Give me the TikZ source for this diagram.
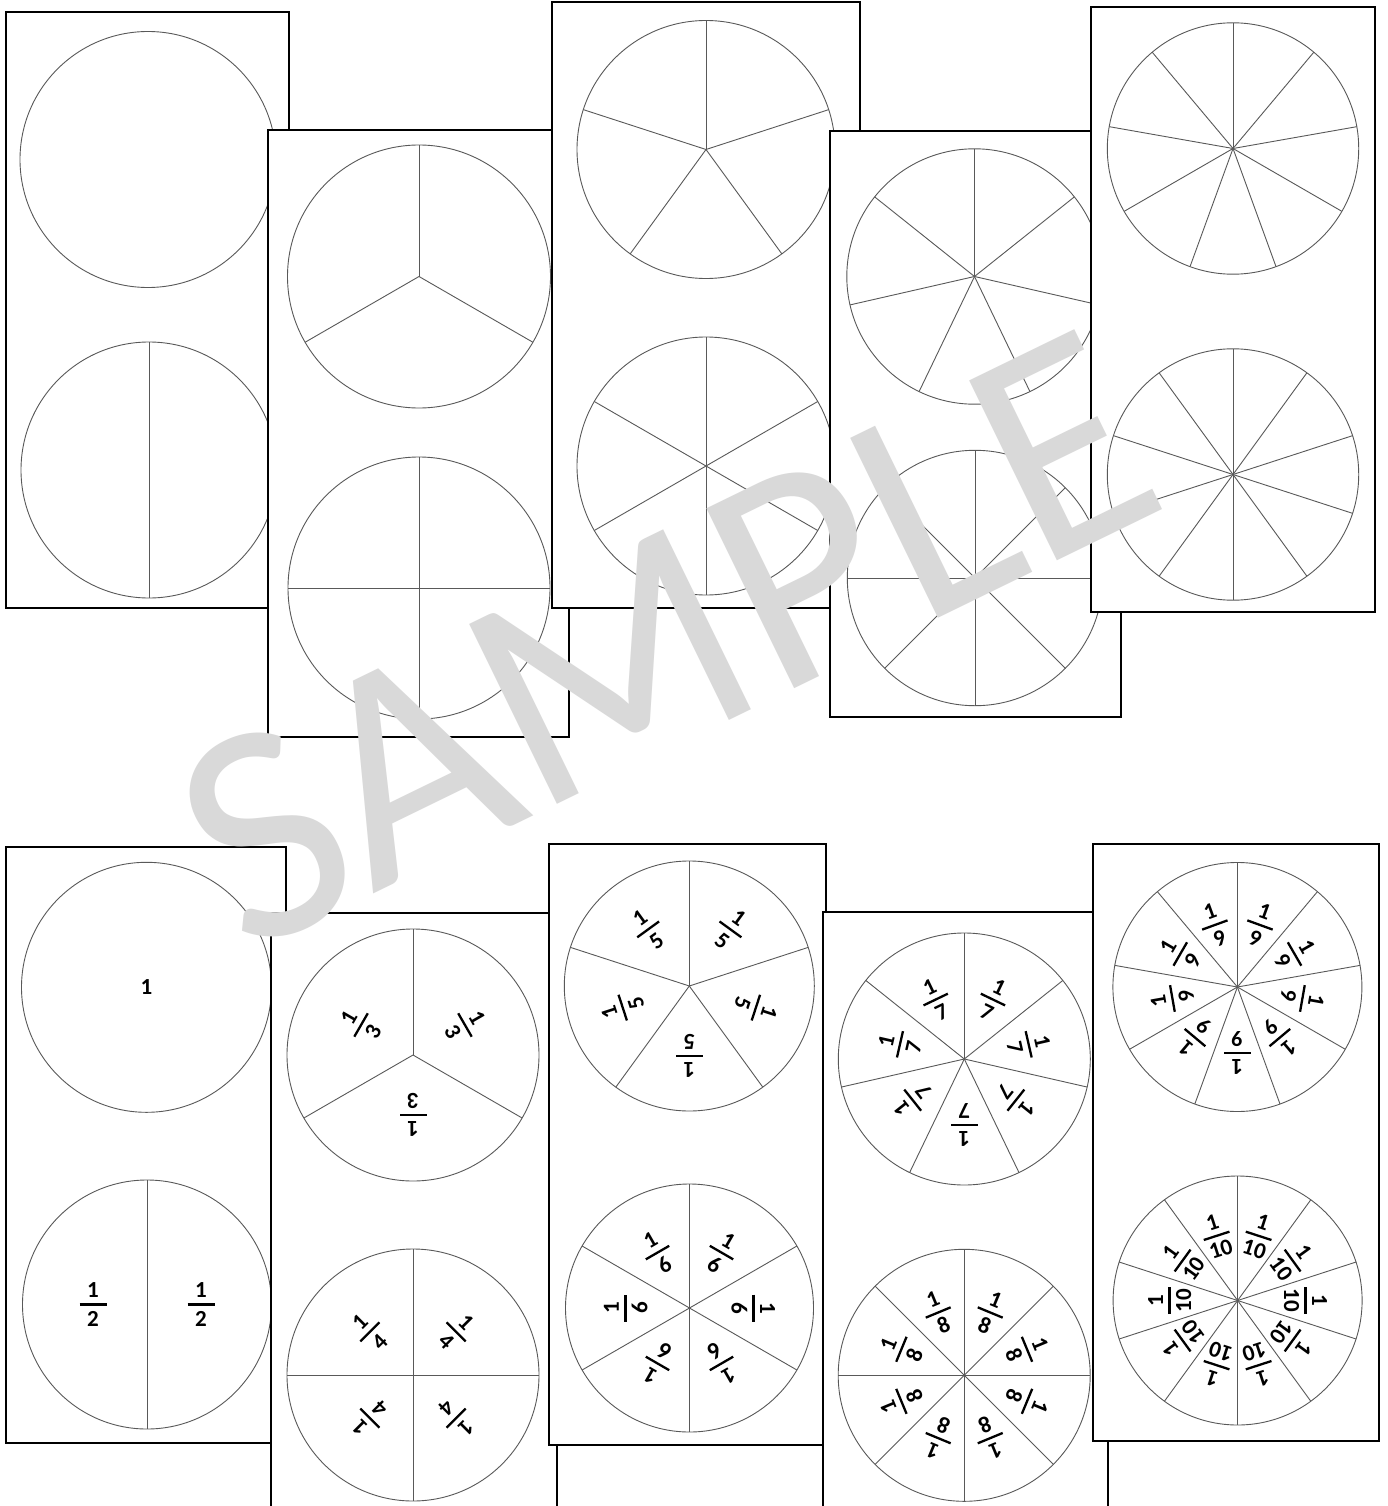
\documentclass[tikz,border=0pt]{standalone}
\usepackage{fontspec}
\setmainfont{Carlito}
\usetikzlibrary{calc}
\tikzset{
  x=1pt, y=-1pt,
  card/.style={draw=black, line width=2pt, fill=white},
  disc/.style={draw=black!65, line width=0.9pt},
  digit/.style={font=\fontsize{23}{26}\selectfont\bfseries, inner sep=0pt, transform shape},
  fracbar/.style={line width=2.3pt},
  wmark/.style={font=\fontsize{312}{312}\selectfont, text=black!15, inner sep=0pt},
  pics/fr/.style={code={
    \node[digit] (-n) at (0pt,14pt) {1};
    \node[digit] (-d) at (0pt,-14pt) {#1};
    \draw[fracbar] (-13.5pt,0pt) -- (13.5pt,0pt);
  }}
}
% #1 name, #2 x, #3 y, #4 radius
\newcommand\disk[4]{%
  \coordinate (#1) at (#2,#3);
  \draw[disc] (#1) circle[radius=#4pt];
}
% #1 name, #2 radius, #3 n
\newcommand\spokes[3]{%
  \foreach \k in {1,...,#3} {\draw[disc] (#1) -- ++({90+360*\k/#3}:#2pt);}
}
% #1 name, #2 distance, #3 n
\newcommand\fraclabels[3]{%
  \foreach \k in {1,...,#3} {%
    \pgfmathsetmacro\ang{90+360*(\k-0.5)/#3}%
    \pgfmathsetmacro\rot{\ang-90}%
    \pic[rotate=\rot] (#1l\k) at ($(#1)+(\ang:#2pt)$) {fr=#3};
  }%
}
\begin{document}
\begin{tikzpicture}
\useasboundingbox (0,0) rectangle (1387,1506);
\clip (0,0) rectangle (1387,1506);
\fill[white] (0,0) rectangle (1387,1506);

% ---------- top row ----------
\draw[card] (6,12) rectangle (289,608);
\disk{A1}{148}{159.5}{128}
\disk{A2}{149}{470}{128}\spokes{A2}{128}{2}

\draw[card] (268,130) rectangle (569,737);
\disk{B1}{419}{276.5}{131.5}\spokes{B1}{131.5}{3}
\disk{B2}{419}{588}{131}\spokes{B2}{131}{4}

\draw[card] (552,2) rectangle (860,608);
\disk{C1}{706}{149.5}{129}\spokes{C1}{129}{5}
\disk{C2}{706}{466}{129}\spokes{C2}{129}{6}

\draw[card] (830,131.5) rectangle (1121,716.5);
\disk{D1}{974.5}{276.5}{127.7}\spokes{D1}{127.7}{7}
\disk{D2}{975}{578}{127.7}\spokes{D2}{127.7}{8}

\draw[card] (1091,7) rectangle (1375,611.5);
\disk{E1}{1233}{148.5}{125.7}\spokes{E1}{125.7}{9}
\disk{E2}{1233}{474.5}{125.7}\spokes{E2}{125.7}{10}

% ---------- bottom row ----------
\draw[card] (6,847) rectangle (286,1443);
\disk{F1}{146.5}{987.3}{125}
\node[digit] (one) at (F1) {1};
\disk{F2}{147}{1304.5}{124.5}\spokes{F2}{124.5}{2}
\pic (F2l1) at ($(F2)+(-54pt,0pt)$) {fr=2};
\pic (F2l2) at ($(F2)+(54pt,0pt)$) {fr=2};

\draw[card] (271,913) rectangle (557,1530);
\disk{G1}{413}{1055}{126}\spokes{G1}{126}{3}\fraclabels{G1}{60}{3}
\disk{G2}{413}{1375}{126}\spokes{G2}{126}{4}\fraclabels{G2}{61}{4}

\draw[card] (549,844) rectangle (826,1445);
\disk{H1}{689.3}{986}{125}\spokes{H1}{125}{5}\fraclabels{H1}{70}{5}
\disk{H2}{689.5}{1308}{124}\spokes{H2}{124}{6}\fraclabels{H2}{64}{6}

\draw[card] (823,912) rectangle (1108,1530);
\disk{I1}{964.3}{1059}{126}\spokes{I1}{126}{7}\fraclabels{I1}{66}{7}
\disk{I2}{964.2}{1375.3}{126}\spokes{I2}{126}{8}\fraclabels{I2}{68}{8}

\draw[card] (1093,844) rectangle (1379,1441);
\disk{J1}{1237.4}{987}{124.5}\spokes{J1}{124.5}{9}\fraclabels{J1}{66}{9}
\disk{J2}{1237.6}{1300.5}{124.5}\spokes{J2}{124.5}{10}\fraclabels{J2}{68}{10}

% ---------- watermark ----------
\node[wmark, rotate=26] (wm) at (666,640) {SAMPLE};
\end{tikzpicture}
\end{document}
